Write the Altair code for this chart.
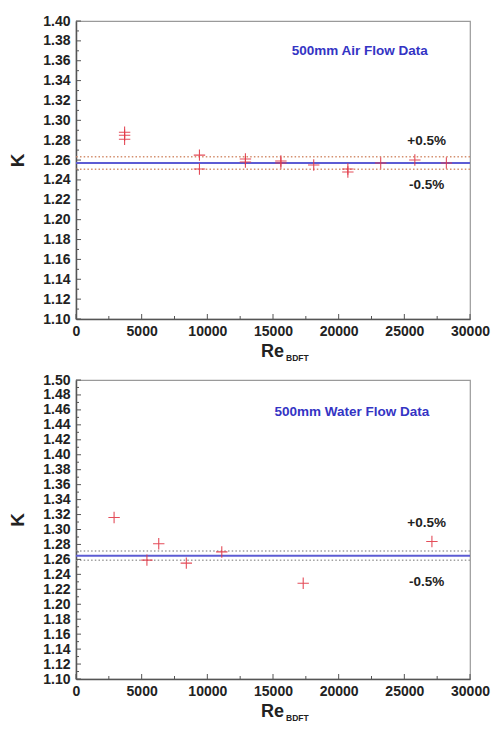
import altair as alt
import pandas as pd

# ---------------- data ----------------
air_re = [3700, 3700, 3700, 9400, 9400, 12900, 12900, 15600, 15600, 18100, 20700, 20700, 23200, 25800, 28200]
air_k = [1.288, 1.285, 1.281, 1.265, 1.251, 1.261, 1.258, 1.259, 1.257, 1.255, 1.251, 1.248, 1.257, 1.260, 1.257]
air_ref = [1.257]
air_band = [1.2633, 1.2507]

water_re = [2900, 5400, 6300, 8400, 11100, 17300, 27100]
water_k = [1.316, 1.259, 1.281, 1.255, 1.270, 1.228, 1.284]
water_ref = [1.265]
water_band = [1.2713, 1.2587]

x_major = [0, 5000, 10000, 15000, 20000, 25000, 30000]
x_minor = [2500, 7500, 12500, 17500, 22500, 27500]

FONT = "Liberation Sans"
RED = "#e23a48"
BLUE = "#5c5cd4"
CROSS = "M-1,0L1,0M0,-1L0,1"
W = 394


def panel(re, k, ref, band, ymax, title_text, title_pos, plus_pos, minus_pos, dot_color, h, w=W):
    y_major = [round(1.10 + 0.02 * i, 2) for i in range(int(round((ymax - 1.10) / 0.02)) + 1)]
    y_minor = [round(v + 0.01, 2) for v in y_major[:-1]]

    xs = alt.Scale(domain=[0, 30000], nice=False)
    ys = alt.Scale(domain=[1.10, ymax], nice=False, zero=False)
    xenc = alt.X("x:Q", scale=xs, title=None,
                 axis=alt.Axis(values=x_major, format="d", ticks=False, grid=False,
                               labelFont=FONT, labelFontSize=14, labelFontWeight="bold",
                               labelColor="#222", labelPadding=5, domainColor="#555",
                               domainWidth=1.5, labelFlush=False))
    yenc = alt.Y("y:Q", scale=ys, title="K",
                 axis=alt.Axis(values=y_major, format=".2f", ticks=False, grid=False,
                               labelFont=FONT, labelFontSize=14, labelFontWeight="bold",
                               labelColor="#222", labelPadding=6, domainColor="#555",
                               domainWidth=1.5, titleFont=FONT, titleFontSize=19,
                               titleFontWeight="bold", titleColor="#222", titlePadding=15,
                               titleY=h / 2 - 10,
                               labelFlush=False, labelOverlap=False))

    pts = alt.Chart(pd.DataFrame({"x": re, "y": k})).mark_point(
        shape=CROSS, filled=False, stroke=RED, strokeWidth=1.1, size=130, opacity=0.9
    ).encode(x=xenc, y=yenc)

    ref_line = alt.Chart(pd.DataFrame({"y": ref})).mark_rule(
        color=BLUE, strokeWidth=2).encode(y=yenc)
    band_lines = alt.Chart(pd.DataFrame({"y": band})).mark_rule(
        color=dot_color, strokeWidth=1.5, strokeDash=[1.5, 2.2]).encode(y=yenc)

    ymaj = alt.Chart(pd.DataFrame({"y": y_major})).mark_rule(color="#555").encode(
        y=yenc, x=alt.value(0), x2=alt.value(5))
    ymin_ = alt.Chart(pd.DataFrame({"y": y_minor})).mark_rule(color="#555").encode(
        y=yenc, x=alt.value(0), x2=alt.value(3))
    xmaj = alt.Chart(pd.DataFrame({"x": x_major})).mark_rule(color="#555").encode(
        x=xenc, y=alt.value(h), y2=alt.value(h - 5))
    xmin_ = alt.Chart(pd.DataFrame({"x": x_minor})).mark_rule(color="#555").encode(
        x=xenc, y=alt.value(h), y2=alt.value(h - 3))

    ann = alt.Chart(pd.DataFrame({"x": [plus_pos[0], minus_pos[0]],
                                  "y": [plus_pos[1], minus_pos[1]],
                                  "t": ["+0.5%", "-0.5%"]})).mark_text(
        font=FONT, fontSize=13.5, fontWeight="bold", color="#222").encode(
        x=xenc, y=yenc, text="t:N")
    ttl = alt.Chart(pd.DataFrame({"x": [title_pos[0]], "y": [title_pos[1]],
                                  "t": [title_text]})).mark_text(
        font=FONT, fontSize=13.5, fontWeight="bold", color="#3434c4").encode(
        x=xenc, y=yenc, text="t:N")

    re_t = alt.Chart(pd.DataFrame({"t": ["Re"]})).mark_text(
        font=FONT, fontSize=18, fontWeight="bold", color="#222", align="right",
        baseline="middle").encode(x=alt.value(w / 2 + 11), y=alt.value(h + 33), text="t:N")
    sub_t = alt.Chart(pd.DataFrame({"t": ["BDFT"]})).mark_text(
        font=FONT, fontSize=8.5, fontWeight="bold", color="#222", align="left",
        baseline="middle").encode(x=alt.value(w / 2 + 13), y=alt.value(h + 39), text="t:N")

    return alt.layer(band_lines, ref_line, pts, ymaj, ymin_, xmaj, xmin_, ann, ttl,
                     re_t, sub_t).properties(width=w, height=h)


top = panel(air_re, air_k, air_ref, air_band, 1.40, "500mm Air Flow Data",
            (21600, 1.370), (26700, 1.279), (26700, 1.235), "#d4906f", 298)
bottom = panel(water_re, water_k, water_ref, water_band, 1.50, "500mm Water Flow Data",
               (21000, 1.457), (26700, 1.309), (26700, 1.230), "#a0a0a0", 299)

chart = alt.vconcat(top, bottom, spacing=8).configure_view(
    stroke="#9a9a9a", strokeWidth=1.2
).properties(background="white",
             padding={"top": 5, "left": 0, "right": 0, "bottom": 0})

chart.save("out.html", embed_options={"renderer": "svg", "actions": False})
